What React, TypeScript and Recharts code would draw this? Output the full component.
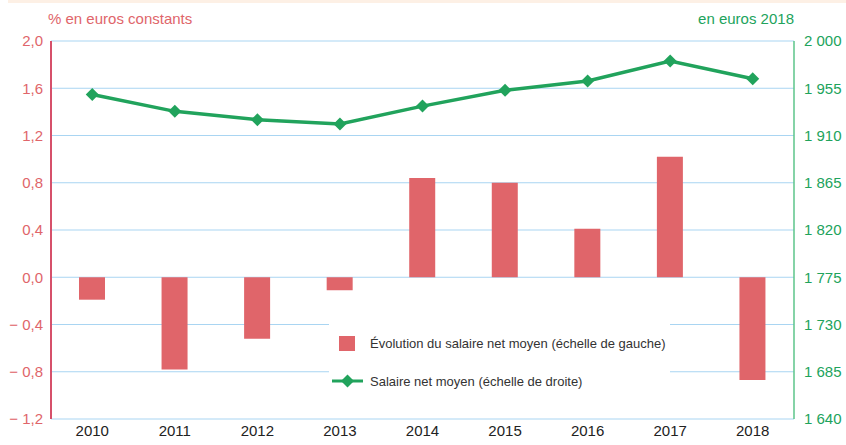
import React from "react";
import {
  ComposedChart,
  Bar,
  Line,
  XAxis,
  YAxis,
  CartesianGrid,
} from "recharts";

const YEARS = ["2010", "2011", "2012", "2013", "2014", "2015", "2016", "2017", "2018"];
const EVOLUTION = [-0.19, -0.78, -0.52, -0.11, 0.84, 0.8, 0.41, 1.02, -0.87];
const SALAIRE = [1949, 1933, 1925, 1921, 1938, 1953, 1962, 1981, 1964];
const LEFT_TICKS = [-1.2, -0.8, -0.4, 0, 0.4, 0.8, 1.2, 1.6, 2.0];
const RIGHT_TICKS = [1640, 1685, 1730, 1775, 1820, 1865, 1910, 1955, 2000];

const RED = "#e0656a";
const GREEN = "#21a35c";
const FONT = "'Liberation Sans', Arial, sans-serif";

const data = YEARS.map((year, i) => ({
  year,
  evolution: EVOLUTION[i],
  salaire: SALAIRE[i],
}));

const fmtLeft = (v: number) => {
  const s = Math.abs(v).toFixed(1).replace(".", ",");
  return v < 0 ? "\u2212 " + s : s;
};
const fmtRight = (v: number) => String(v).replace(/\B(?=(\d{3})+(?!\d))/g, "\u00a0");

const Diamond = (props: any) => {
  const { cx, cy } = props;
  if (cx == null || cy == null) return null;
  const r = 6.5;
  return (
    <path
      d={`M${cx},${cy - r} L${cx + r},${cy} L${cx},${cy + r} L${cx - r},${cy} Z`}
      fill={GREEN}
    />
  );
};

// legend box sits on top of the grid, white background hides the lines
const LegendBox = () => (
  <div
    style={{
      position: "absolute",
      left: 329,
      top: 318,
      width: 341,
      height: 78,
      background: "#fff",
      fontFamily: FONT,
      fontSize: 13,
      color: "#333",
    }}
  >
    <div style={{ display: "flex", alignItems: "center", height: 20, marginTop: 15, whiteSpace: "nowrap" }}>
      <span style={{ display: "inline-block", width: 16, height: 15, background: RED, marginLeft: 10, marginRight: 15 }} />
      <span>Évolution du salaire net moyen (échelle de gauche)</span>
    </div>
    <div style={{ display: "flex", alignItems: "center", height: 20, marginTop: 18, whiteSpace: "nowrap" }}>
      <svg width={41} height={16}>
        <line x1={3} y1={8} x2={34} y2={8} stroke={GREEN} strokeWidth={3} />
        <path d="M18.5,1.5 L25,8 L18.5,14.5 L12,8 Z" fill={GREEN} />
      </svg>
      <span>Salaire net moyen (échelle de droite)</span>
    </div>
  </div>
);

export default function App() {
  return (
    <div style={{ position: "absolute", left: 0, top: 0, width: 846, height: 445, background: "#fff", fontFamily: FONT }}>
      <style>{"body{margin:0}"}</style>
      <div style={{ position: "absolute", left: 8, top: 0, width: 838, height: 3, background: "#fdf0e5" }} />
      <div style={{ position: "absolute", left: 48, top: 10, fontSize: 15, color: RED }}>% en euros constants</div>
      <div style={{ position: "absolute", right: 52, top: 10, fontSize: 15, color: GREEN }}>en euros 2018</div>
      <ComposedChart
        width={846}
        height={445}
        data={data}
        margin={{ top: 41, right: 0, bottom: 0, left: 0 }}
        barCategoryGap={0}
      >
        <CartesianGrid vertical={false} stroke="#a9d5f2" strokeWidth={1} yAxisId="left" />
        <XAxis
          dataKey="year"
          height={26}
          axisLine={false}
          tickLine={false}
          tick={{ fontSize: 15, fill: "#222", fontFamily: FONT }}
          tickMargin={0}
        />
        <YAxis
          yAxisId="left"
          orientation="left"
          width={51}
          domain={[-1.2, 2.0]}
          ticks={LEFT_TICKS}
          tickFormatter={fmtLeft}
          axisLine={{ stroke: "#d6506a", strokeWidth: 2 }}
          tickLine={false}
          tick={{ fontSize: 15, fill: RED, fontFamily: FONT }}
          interval={0}
        />
        <YAxis
          yAxisId="right"
          orientation="right"
          width={52}
          domain={[1640, 2000]}
          ticks={RIGHT_TICKS}
          tickFormatter={fmtRight}
          axisLine={{ stroke: "#5cc48a", strokeWidth: 1.5 }}
          tickLine={false}
          tick={{ fontSize: 15, fill: GREEN, fontFamily: FONT }}
          tickMargin={4}
          interval={0}
        />
        <Bar yAxisId="left" dataKey="evolution" fill={RED} barSize={26} isAnimationActive={false} />
        <Line
          yAxisId="right"
          dataKey="salaire"
          stroke={GREEN}
          strokeWidth={3.5}
          dot={<Diamond />}
          activeDot={false}
          isAnimationActive={false}
        />
      </ComposedChart>
      <LegendBox />
    </div>
  );
}
